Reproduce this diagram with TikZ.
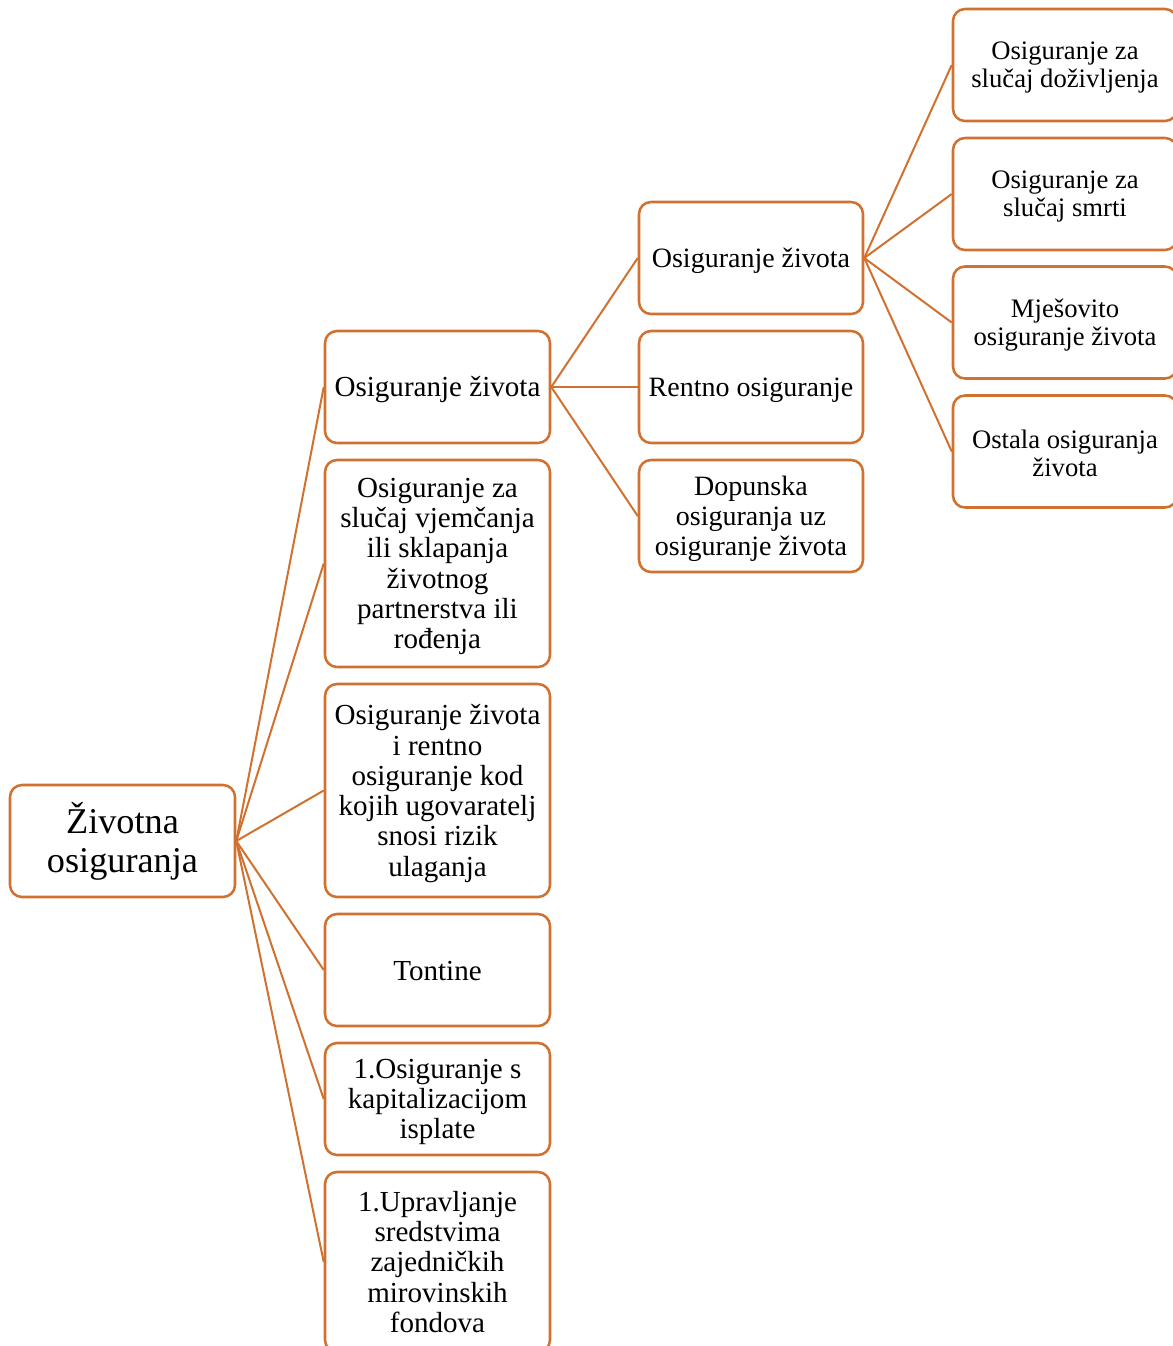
\documentclass[tikz,border=0pt]{standalone}
\usepackage{fontspec}
\setmainfont{Liberation Serif}
\definecolor{edge}{RGB}{209,113,48}
\tikzset{
  px/.style={x=0.75pt,y=-0.75pt},
  box/.style={draw=edge,line width=1.9pt,rounded corners=9pt,fill=white,inner sep=0pt},
  rootbox/.style={box,minimum width=168.75pt,minimum height=84pt},
  colb/.style={box,minimum width=168.75pt},
  colc/.style={box,minimum width=168pt,minimum height=84pt},
  cold/.style={box,minimum width=168pt,minimum height=84pt},
  lbl/.style={align=center,inner sep=0pt,text=black},
  roottxt/.style={lbl,font=\fontsize{27.2}{29.5}\selectfont},
  btxt/.style={lbl,font=\fontsize{21.8}{22.7}\selectfont},
  ctxt/.style={lbl,font=\fontsize{21}{22.5}\selectfont},
  dtxt/.style={lbl,font=\fontsize{20}{21}\selectfont},
  link/.style={draw=edge,line width=1.5pt}
}
\begin{document}
\begin{tikzpicture}[px]
\useasboundingbox (0,0) rectangle (1173,1346);
\clip (0,0) rectangle (1173,1346);
% root
\node[rootbox] (root) at (122.5,841) {};
\node[roottxt] (roott) at (root.center) {Životna\\osiguranja};
% column 2
\node[colb,minimum height=84pt] (b1) at (437.5,387) {};
\node[colb,minimum height=155.25pt] (b2) at (437.5,563.5) {};
\node[colb,minimum height=159.75pt] (b3) at (437.5,790.5) {};
\node[colb,minimum height=84pt] (b4) at (437.5,970) {};
\node[colb,minimum height=84pt] (b5) at (437.5,1099) {};
\node[colb,minimum height=135pt] (b6) at (437.5,1262) {};
\node[btxt] (b1t) at ([yshift=-2.25pt]b1.center) {Osiguranje života};
\node[btxt] (b2t) at ([yshift=-2.25pt]b2.center) {Osiguranje za\\slučaj vjemčanja\\ili sklapanja\\životnog\\partnerstva ili\\rođenja};
\node[btxt] (b3t) at ([yshift=-2.25pt]b3.center) {Osiguranje života\\i rentno\\osiguranje kod\\kojih ugovaratelj\\snosi rizik\\ulaganja};
\node[btxt] (b4t) at ([yshift=-1pt]b4.center) {Tontine};
\node[btxt] (b5t) at ([yshift=-2.25pt]b5.center) {1.Osiguranje s\\kapitalizacijom\\isplate};
\node[btxt] (b6t) at (b6.center) {1.Upravljanje\\sredstvima\\zajedničkih\\mirovinskih\\fondova};
% column 3
\node[colc] (c1) at (751,258) {};
\node[colc] (c2) at (751,387) {};
\node[colc] (c3) at (751,516) {};
\node[ctxt] (c1t) at ([yshift=-2.25pt]c1.center) {Osiguranje života};
\node[ctxt] (c2t) at ([yshift=-2.25pt]c2.center) {Rentno osiguranje};
\node[ctxt] (c3t) at ([yshift=-2.25pt]c3.center) {Dopunska\\osiguranja uz\\osiguranje života};
% column 4
\node[cold] (d1) at (1065,65) {};
\node[cold] (d2) at (1065,194) {};
\node[cold] (d3) at (1065,322.5) {};
\node[cold] (d4) at (1065,451.5) {};
\node[dtxt] (d1t) at ([yshift=-2.25pt]d1.center) {Osiguranje za\\slučaj doživljenja};
\node[dtxt] (d2t) at ([yshift=-2.25pt]d2.center) {Osiguranje za\\slučaj smrti};
\node[dtxt] (d3t) at ([yshift=-2.25pt]d3.center) {Mješovito\\osiguranje života};
\node[dtxt] (d4t) at ([yshift=-1.5pt]d4.center) {Ostala osiguranja\\života};
% connectors
\foreach \t in {b1,b2,b3,b4,b5,b6} \draw[link] (root.east) -- (\t.west);
\foreach \t in {c1,c2,c3} \draw[link] (b1.east) -- (\t.west);
\foreach \t in {d1,d2,d3,d4} \draw[link] (c1.east) -- (\t.west);
\end{tikzpicture}
\end{document}
